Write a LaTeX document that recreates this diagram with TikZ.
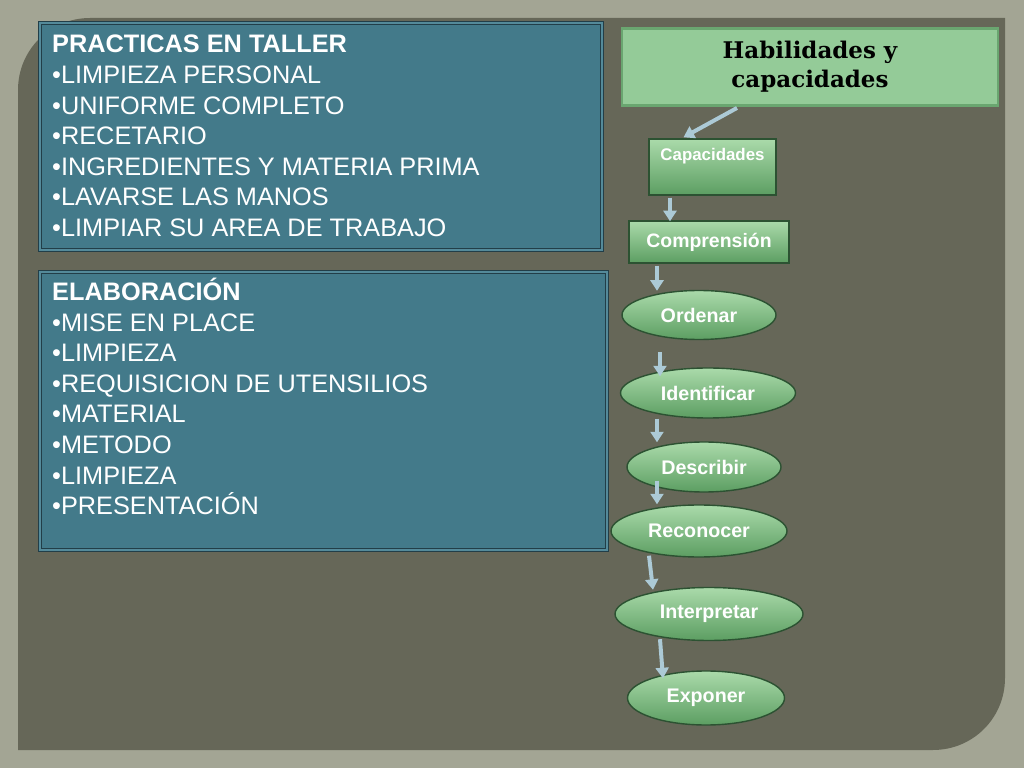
\documentclass[tikz,border=0pt]{standalone}
\usepackage{fontspec}
\setsansfont{Liberation Sans}
\newfontfamily\titlefont{DejaVu Serif}
\usepackage{tikz}
\usetikzlibrary{shapes.geometric,arrows.meta}

\definecolor{slidebg}{RGB}{163,165,148}
\definecolor{panelbg}{RGB}{102,103,88}
\definecolor{tealfill}{RGB}{67,122,138}
\definecolor{tealedge}{RGB}{34,62,72}
\definecolor{teallight}{RGB}{84,138,154}
\definecolor{titlefill}{RGB}{148,203,152}
\definecolor{titleedge}{RGB}{106,166,112}
\definecolor{gtop}{RGB}{170,218,170}
\definecolor{gmid}{RGB}{128,192,132}
\definecolor{gbot}{RGB}{92,158,98}
\definecolor{gedge}{RGB}{44,82,50}
\definecolor{arwblue}{RGB}{172,202,214}

\begin{document}
\begin{tikzpicture}[
  x=0.03cm, y=-0.03cm,
  bluebox/.style={draw=tealedge, line width=0.9pt, double=teallight, double distance=1.6pt, fill=tealfill},
  listtext/.style={anchor=north west, inner sep=0, align=left, text=white, font=\sffamily\fontsize{21.6}{26.1}\selectfont},
  titlebox/.style={rectangle, draw=titleedge, line width=2.5pt, fill=titlefill, align=center, minimum width=11.28cm, minimum height=2.31cm, font=\titlefont\bfseries\fontsize{19.6}{25}\selectfont},
  gbox/.style={rectangle, inner sep=0, draw=gedge, line width=1.2pt, top color=gtop, middle color=gmid, bottom color=gbot, text=white, font=\sffamily\bfseries\fontsize{16.6}{20}\selectfont},
  goval/.style={ellipse, inner sep=0, draw=gedge, line width=1.2pt, top color=gtop, middle color=gmid, bottom color=gbot, text=white, font=\sffamily\bfseries\fontsize{16.8}{20}\selectfont},
  arw/.style={-{Triangle[length=9pt, width=11pt]}, line width=3.4pt, draw=arwblue}
  ]

\fill[slidebg] (0,0) rectangle (1024,768);
\useasboundingbox (0,0) rectangle (1024,768);
\fill[panelbg] (18,750) -- (18,90) .. controls (18,50) and (50,18) .. (90,18) -- (1005,18)
  -- (1005,678) .. controls (1005,718) and (973,750) .. (933,750) -- cycle;

\draw[bluebox] (40,23) rectangle (602,250);
\node[listtext] (prac) at (52,35) {\textbf{PRACTICAS EN TALLER}\\•LIMPIEZA PERSONAL\\•UNIFORME COMPLETO\\•RECETARIO\\•INGREDIENTES Y MATERIA PRIMA\\•LAVARSE LAS MANOS\\•LIMPIAR SU AREA DE TRABAJO};

\draw[bluebox] (40,272) rectangle (607,550);
\node[listtext] (elab) at (52,278) {\textbf{ELABORACIÓN}\\•MISE EN PLACE\\•LIMPIEZA\\•REQUISICION DE UTENSILIOS\\•MATERIAL\\•METODO\\•LIMPIEZA\\•PRESENTACIÓN};

\node[titlebox] (tit) at (810,67) {Habilidades y\\capacidades};

\node[gbox, minimum width=3.81cm, minimum height=1.68cm, text height=10pt, text depth=21pt, font=\sffamily\bfseries\fontsize{14.4}{17}\selectfont] (cap) at (712.5,167) {Capacidades};
\node[gbox, minimum width=4.8cm, minimum height=1.26cm] (com) at (709,242) {Comprensión};

\node[goval, minimum width=4.62cm, minimum height=1.47cm] (ord) at (699,315) {Ordenar};
\node[goval, minimum width=5.25cm, minimum height=1.5cm] (ide) at (708,393) {Identificar};
\node[goval, minimum width=4.62cm, minimum height=1.5cm] (des) at (704,467) {Describir};
\node[goval, minimum width=5.28cm, minimum height=1.56cm] (rec) at (699,531) {Reconocer};
\node[goval, minimum width=5.64cm, minimum height=1.59cm] (int) at (709,614) {Interpretar};
\node[goval, minimum width=4.71cm, minimum height=1.62cm] (exp) at (706,698) {Exponer};

\draw[arw] ([shift={(-73,1)}]tit.south) -- ([shift={(-29,-1)}]cap.north);
\draw[arw] ([shift={(-42.5,2)}]cap.south) -- ([shift={(-39,1)}]com.north);
\draw[arw] ([shift={(-52,2)}]com.south) -- ([shift={(-42,1)}]ord.north);
\draw[arw] ([shift={(-39,12)}]ord.south) -- ([shift={(-48,9)}]ide.north);
\draw[arw] ([shift={(-51,0)}]ide.south) -- ([shift={(-47,1)}]des.north);
\draw[arw] ([shift={(-47,-12)}]des.south) -- ([shift={(-42,0)}]rec.north);
\draw[arw] ([shift={(-50,-2)}]rec.south) -- ([shift={(-56,3)}]int.north);
\draw[arw] ([shift={(-49,-2)}]int.south) -- ([shift={(-43,8)}]exp.north);

\end{tikzpicture}
\end{document}
